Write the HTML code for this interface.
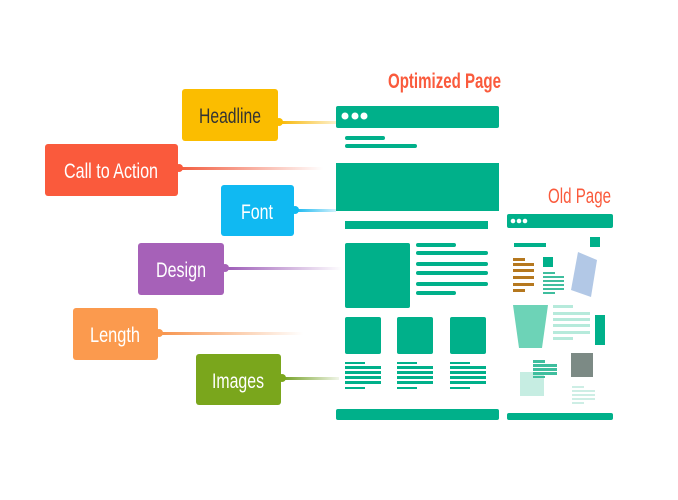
<!DOCTYPE html>
<html><head><meta charset="utf-8"><style>
html,body{margin:0;padding:0;background:#fff;width:678px;height:500px;overflow:hidden}
svg{display:block}
text{font-family:"Liberation Sans",sans-serif}
</style></head><body>
<svg width="678" height="500" viewBox="0 0 678 500">
<defs>
<linearGradient id="gy" x1="0" x2="1"><stop offset="0" stop-color="#f7b500"/><stop offset="1" stop-color="#f7b500" stop-opacity=".2"/></linearGradient>
<linearGradient id="gr" x1="0" x2="1"><stop offset="0" stop-color="#f25a3c"/><stop offset="1" stop-color="#f25a3c" stop-opacity="0"/></linearGradient>
<linearGradient id="gb" x1="0" x2="1"><stop offset="0" stop-color="#12b6f0"/><stop offset="1" stop-color="#12b6f0" stop-opacity=".2"/></linearGradient>
<linearGradient id="gp" x1="0" x2="1"><stop offset="0" stop-color="#9b59b6"/><stop offset="1" stop-color="#9b59b6" stop-opacity="0"/></linearGradient>
<linearGradient id="go" x1="0" x2="1"><stop offset="0" stop-color="#f7924a"/><stop offset="1" stop-color="#f7924a" stop-opacity="0"/></linearGradient>
<linearGradient id="gg" x1="0" x2="1"><stop offset="0" stop-color="#6f9d1e"/><stop offset="1" stop-color="#6f9d1e" stop-opacity=".1"/></linearGradient>
</defs>
<rect x="278" y="121" width="58" height="3" fill="url(#gy)"/><circle cx="279" cy="122" r="4" fill="#fbbd00"/>
<rect x="178" y="167" width="145" height="3" fill="url(#gr)"/><circle cx="179" cy="168" r="4" fill="#fa5a3c"/>
<rect x="294" y="209" width="42" height="3" fill="url(#gb)"/><circle cx="295" cy="210" r="4" fill="#10b9f2"/>
<rect x="224" y="267" width="118" height="3" fill="url(#gp)"/><circle cx="225" cy="268" r="4" fill="#a661b8"/>
<rect x="158" y="332" width="145" height="3" fill="url(#go)"/><circle cx="159" cy="333" r="4" fill="#fb9a4e"/>
<rect x="281" y="377" width="58" height="3" fill="url(#gg)"/><circle cx="282" cy="378" r="4" fill="#7aa61c"/>
<rect x="182" y="89" width="96" height="52" rx="3" fill="#fbbd00"/>
<text x="230" y="123" font-size="21" fill="#333" text-anchor="middle" textLength="62" lengthAdjust="spacingAndGlyphs">Headline</text>
<rect x="45" y="144" width="133" height="52" rx="3" fill="#fa5a3c"/>
<text x="111" y="178" font-size="21" fill="#fff" text-anchor="middle" textLength="94" lengthAdjust="spacingAndGlyphs">Call to Action</text>
<rect x="221" y="185" width="73" height="51" rx="3" fill="#10b9f2"/>
<text x="257" y="219" font-size="21" fill="#fff" text-anchor="middle" textLength="32" lengthAdjust="spacingAndGlyphs">Font</text>
<rect x="138" y="243" width="86" height="52" rx="3" fill="#a661b8"/>
<text x="181" y="277" font-size="21" fill="#fff" text-anchor="middle" textLength="50" lengthAdjust="spacingAndGlyphs">Design</text>
<rect x="73" y="308" width="85" height="52" rx="3" fill="#fb9a4e"/>
<text x="115" y="342" font-size="21" fill="#fff" text-anchor="middle" textLength="50" lengthAdjust="spacingAndGlyphs">Length</text>
<rect x="196" y="354" width="85" height="51" rx="3" fill="#7aa61c"/>
<text x="238" y="388" font-size="21" fill="#fff" text-anchor="middle" textLength="52" lengthAdjust="spacingAndGlyphs">Images</text>
<text x="388" y="88" font-size="21" font-weight="bold" fill="#fa5a3c" textLength="113" lengthAdjust="spacingAndGlyphs">Optimized Page</text>
<text x="548" y="203" font-size="21" fill="#fa5a3c" textLength="63" lengthAdjust="spacingAndGlyphs">Old Page</text>
<g fill="#00b08a">
<rect x="336" y="106" width="163" height="22" rx="2"/>
<rect x="345" y="136" width="40" height="4" rx="2"/>
<rect x="345" y="144" width="72" height="4" rx="2"/>
<rect x="336" y="163" width="163" height="48"/>
<rect x="345" y="221" width="143" height="8"/>
<rect x="345" y="243" width="65" height="65" rx="2"/>
<rect x="416" y="243" width="40" height="4" rx="2"/>
<rect x="416" y="251" width="72" height="4" rx="2"/>
<rect x="416" y="262" width="72" height="4" rx="2"/>
<rect x="416" y="271" width="72" height="4" rx="2"/>
<rect x="416" y="282" width="72" height="4" rx="2"/>
<rect x="416" y="291" width="40" height="4" rx="2"/>
<rect x="345" y="317" width="36" height="37" rx="2"/>
<rect x="397" y="317" width="36" height="37" rx="2"/>
<rect x="450" y="317" width="36" height="37" rx="2"/>
<rect x="336" y="409" width="163" height="11" rx="2"/>
</g>
<g fill="#fff"><circle cx="345" cy="116" r="3.5"/><circle cx="355" cy="116" r="3.5"/><circle cx="364" cy="116" r="3.5"/></g>
<g fill="#00b08a">
<g id="tl"><rect x="345" y="362" width="20" height="2"/><rect x="345" y="366" width="36" height="3"/><rect x="345" y="371" width="36" height="3"/><rect x="345" y="376" width="36" height="3"/><rect x="345" y="381" width="36" height="3"/><rect x="345" y="387" width="20" height="2"/></g>
<use href="#tl" x="52"/><use href="#tl" x="105"/>
</g>
<rect x="507" y="214" width="106" height="14" rx="2" fill="#00b08a"/>
<g fill="#fff"><circle cx="513" cy="221" r="2.3"/><circle cx="519" cy="221" r="2.3"/><circle cx="525" cy="221" r="2.3"/></g>
<rect x="514" y="243" width="32" height="4" fill="#00b08a"/>
<rect x="590" y="237" width="10" height="10" fill="#00b08a"/>
<g fill="#b5781f"><rect x="513" y="258" width="12" height="3"/><rect x="513" y="263" width="21" height="3"/><rect x="513" y="269" width="21" height="3"/><rect x="513" y="276" width="21" height="3"/><rect x="513" y="283" width="21" height="3"/><rect x="513" y="289" width="12" height="3"/></g>
<rect x="543" y="257" width="10" height="10" fill="#00b08a"/>
<g fill="#3fbe9e"><rect x="543" y="272" width="12" height="2"/><rect x="543" y="276" width="21" height="2"/><rect x="543" y="280" width="21" height="2"/><rect x="543" y="284" width="21" height="2"/><rect x="543" y="288" width="21" height="2"/><rect x="543" y="292" width="12" height="2"/></g>
<polygon points="578,252 597,260 591,297 571,290" fill="#b2c8e6"/>
<polygon points="513,305 548,305 542,348 519,348" fill="#6dd3b7"/>
<g fill="#b6eadb"><rect x="553" y="305" width="20" height="3"/><rect x="553" y="312" width="37" height="3"/><rect x="553" y="318" width="37" height="3"/><rect x="553" y="324" width="37" height="3"/><rect x="553" y="331" width="37" height="3"/><rect x="553" y="337" width="20" height="3"/></g>
<rect x="595" y="315" width="10" height="30" fill="#00b08a"/>
<rect x="571" y="353" width="22" height="24" fill="#7c8a85"/>
<rect x="520" y="372" width="24" height="24" fill="#c6ede2"/>
<g fill="#3fbe9e"><rect x="533" y="360" width="12" height="3"/><rect x="533" y="364" width="24" height="3"/><rect x="533" y="368" width="24" height="3"/><rect x="533" y="372" width="24" height="3"/><rect x="533" y="376" width="12" height="2"/></g>
<g fill="#cdeee5"><rect x="572" y="386" width="12" height="2"/><rect x="572" y="390" width="23" height="2"/><rect x="572" y="394" width="23" height="2"/><rect x="572" y="398" width="23" height="2"/><rect x="572" y="402" width="12" height="2"/></g>
<rect x="507" y="413" width="106" height="7" rx="2" fill="#00b08a"/>
</svg>
</body></html>
